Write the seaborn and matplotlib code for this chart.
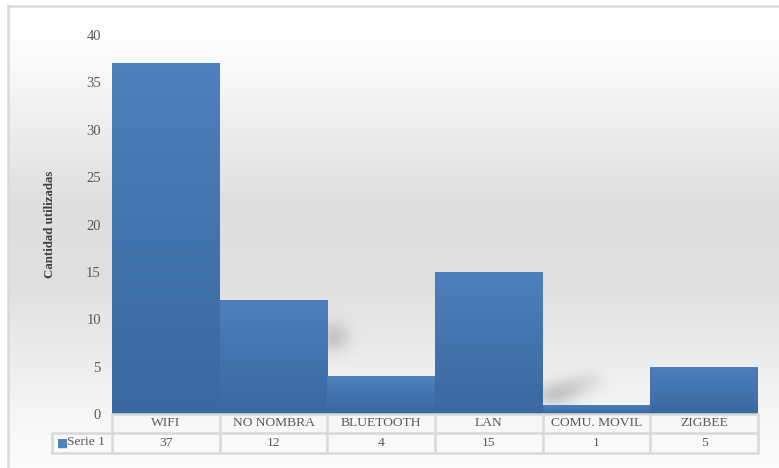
import numpy as np
import pandas as pd
import matplotlib
matplotlib.use("Agg")
import matplotlib.pyplot as plt
from matplotlib.colors import LinearSegmentedColormap
import seaborn as sns

# Data
categories = ["WIFI", "NO NOMBRA", "BLUETOOTH", "LAN", "COMU. MOVIL", "ZIGBEE"]
values = [37, 12, 4, 15, 1, 5]
series_name = "Serie 1"
y_ticks = [0, 5, 10, 15, 20, 25, 30, 35, 40]

df = pd.DataFrame({"categoria": categories, "cantidad": values})

sns.set_theme(style="white")
plt.rcParams["font.family"] = ["Liberation Serif", "DejaVu Serif"]

W, H = 779, 468
fig = plt.figure(figsize=(W / 100, H / 100), dpi=100)
fig.patch.set_facecolor("white")

# Chart-area background: soft vertical gradient inside a thin frame
bg = fig.add_axes([8 / W, 0, 1 - 8 / W, (H - 6) / H], zorder=0)
bg.set_axis_off()
stops_y = np.array([0, 50, 200, 280, 420, 462])          # px from top of frame
stops_v = np.array([255, 252, 222, 224, 248, 252]) / 255
yy = np.linspace(0, 462, 400)
vv = np.interp(yy, stops_y, stops_v)
grad = np.repeat(vv[:, None], 2, axis=1)
bg.imshow(np.dstack([grad, grad, grad]), aspect="auto", extent=[0, 1, 0, 1],
          interpolation="bilinear")
bg.set_xlim(0, 1)
bg.set_ylim(0, 1)
fig.add_artist(plt.Line2D([7.5 / W, 7.5 / W], [0, (H - 5) / H], color="#d9d9d9", lw=1.8))
fig.add_artist(plt.Line2D([7.5 / W, 1], [(H - 5.5) / H, (H - 5.5) / H], color="#d9d9d9", lw=1.8))

# Main axes
ax = fig.add_axes([112 / W, 1 - 414 / H, 646 / W, 379 / H], zorder=2)
ax.patch.set_alpha(0)
sns.barplot(data=df, x="categoria", y="cantidad", color="#4a7ab6", width=1.0,
            linewidth=0, saturation=1, ax=ax)
ax.set_xlim(-0.5, len(categories) - 0.5)
ax.set_ylim(0, 40)


# Soft shadow smudges beside the lower bars (sum of gaussian blobs)
def smudge(x0, x1, y0, y1, blobs):
    gx = np.linspace(x0, x1, 140)
    gy = np.linspace(y0, y1, 90)
    X, Y = np.meshgrid(gx, gy)
    keep = np.ones_like(X)
    for cx, cy, sx, sy, a in blobs:
        keep *= 1 - a * np.exp(-(((X - cx) / sx) ** 2 + ((Y - cy) / sy) ** 2) / 2)
    img = np.zeros(X.shape + (4,))
    img[..., :3] = 0.45
    img[..., 3] = 1 - keep
    ax.imshow(img, extent=[x0, x1, y0, y1], aspect="auto", zorder=1,
              origin="lower", interpolation="bilinear")


smudge(1.4, 2.0, values[1] - 8, values[1], [(1.55, values[1] - 3.9, 0.1, 1.1, 0.3)])
smudge(3.4, 4.3, values[4] - 1, values[4] + 6,
       [(3.58, values[4] + 0.9, 0.12, 0.9, 0.3),
        (3.75, values[4] + 1.6, 0.12, 0.9, 0.22),
        (3.92, values[4] + 2.5, 0.1, 0.8, 0.12)])

# Vertical gradient fill on every bar
bar_cmap = LinearSegmentedColormap.from_list("bar", ["#3a68a0", "#4e80bd"])
for patch in ax.patches:
    x0 = patch.get_x()
    w = patch.get_width()
    h = patch.get_height()
    gimg = np.linspace(0, 1, 100)[:, None]
    im = ax.imshow(gimg, cmap=bar_cmap, aspect="auto", origin="lower",
                   extent=[x0, x0 + w, 0, h], zorder=2, interpolation="bilinear")
    im.set_clip_path(patch)
    patch.set_alpha(0)
ax.set_xlim(-0.5, len(categories) - 0.5)
ax.set_ylim(0, 40)

# Axes styling
for s in ax.spines.values():
    s.set_visible(False)
ax.set_yticks(y_ticks)
ax.set_yticklabels([str(t) for t in y_ticks])
ax.tick_params(axis="y", length=0, pad=8, labelsize=10.5, labelcolor="#595959")
ax.set_xticks([])
ax.set_xlabel("")
ax.set_ylabel("Cantidad utilizadas", fontsize=9.3, fontweight="bold", color="#404040")
ax.yaxis.set_label_coords(-0.086, 0.5)

# Data table beneath the plot
tcol = "#d9d9d9"
tr = ax.get_xaxis_transform()
r0, r1, r2 = 0.0, -0.0501, -0.1029
xl = -0.5 - 60 / 646 * len(categories)
ax.plot([-0.5, 5.5], [r0, r0], transform=tr, color=tcol, lw=1.8, clip_on=False, zorder=3)
ax.plot([xl, 5.5], [r1, r1], transform=tr, color=tcol, lw=1.8, clip_on=False, zorder=3)
ax.plot([xl, 5.5], [r2, r2], transform=tr, color=tcol, lw=1.8, clip_on=False, zorder=3)
ax.plot([xl, xl], [r1, r2], transform=tr, color=tcol, lw=1.8, clip_on=False, zorder=3)
for i in range(len(categories) + 1):
    ax.plot([i - 0.5, i - 0.5], [r0, r2], transform=tr, color=tcol, lw=1.8,
            clip_on=False, zorder=3)
for i, (c, v) in enumerate(zip(categories, values)):
    ax.text(i, (r0 + r1) / 2, c, transform=tr, ha="center", va="center",
            fontsize=9.7, color="#595959", clip_on=False)
    ax.text(i, (r1 + r2) / 2, str(v), transform=tr, ha="center", va="center",
            fontsize=9.7, color="#595959", clip_on=False)
ax.text(xl + 0.05, (r1 + r2) / 2, "■", transform=tr, ha="left", va="center",
        fontsize=8.5, color="#4f81bd", family="DejaVu Sans", clip_on=False)
ax.text(xl + 0.14, (r1 + r2) / 2 + 0.002, series_name, transform=tr, ha="left",
        va="center", fontsize=9.7, color="#595959", clip_on=False)

fig.savefig("out.png", dpi=100)
